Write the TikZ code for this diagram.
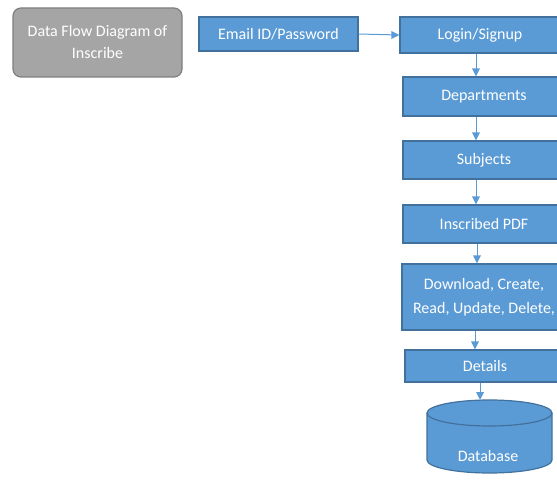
\documentclass[tikz,border=0pt]{standalone}
\usepackage{fontspec}
\setmainfont{Carlito}
\definecolor{boxblue}{HTML}{5B9BD5}
\definecolor{boxedge}{HTML}{41719C}
\definecolor{graybox}{HTML}{A5A5A5}
\definecolor{grayedge}{HTML}{7F7F7F}
\definecolor{arrowblue}{HTML}{5B9BD5}
\begin{document}
\begin{tikzpicture}[x=1pt,y=1pt,
  bluebox/.style={draw=boxedge, line width=1.2pt, fill=boxblue, text=white, font=\fontsize{16}{19}\selectfont, align=center, inner sep=0pt},
  flow/.style={draw=arrowblue, line width=1pt, shorten >=3pt},
  headtip/.style={fill=arrowblue}]
\clip (0,0) rectangle (557,-481);
\fill[white] (0,0) rectangle (557,-481);
\node[draw=grayedge, line width=1.2pt, fill=graybox, rounded corners=8pt, text=white, font=\fontsize{16}{22}\selectfont, align=center, minimum width=169pt, minimum height=69pt, inner sep=0pt] (title) at (97.5,-42.5) {Data Flow Diagram of\\Inscribe};
\node[bluebox, minimum width=159pt, minimum height=34pt] (email) at (278.5,-34) {Email ID/Password};
\node[bluebox, minimum width=160pt, minimum height=36pt] (login) at (480,-35) {Login/Signup};
\node[bluebox, minimum width=162pt, minimum height=39pt] (dept) at (484,-96.5) {Departments};
\node[bluebox, minimum width=162pt, minimum height=38pt] (subj) at (484,-160) {Subjects};
\node[bluebox, minimum width=162pt, minimum height=38pt] (pdf) at (484,-224) {Inscribed PDF};
\node[bluebox, minimum width=164pt, minimum height=66pt, font=\fontsize{16}{24}\selectfont] (crud) at (484,-297) {Download, Create,\\Read, Update, Delete,};
\node[bluebox, minimum width=160pt, minimum height=32pt] (details) at (485,-366) {Details};
% database cylinder
\coordinate (db) at (489.5,-436.5);
\coordinate (dbtop) at (480,-400);
\draw[draw=boxedge, line width=1.2pt, fill=boxblue] (427,-413) -- (427,-460) arc (180:360:62.5 and 13) -- (552,-413) arc (0:180:62.5 and 13) -- cycle;
\draw[draw=boxedge, line width=1.2pt] (427,-413) arc (180:360:62.5 and 13);
\node[text=white, font=\fontsize{16}{19}\selectfont] (dbtext) at (488,-456) {Database};
% connectors
\draw[flow] (email.east) -- (login.west);
\fill[headtip] (login.west) -- ++(-8,4) -- ++(0,-8) -- cycle;
\draw[flow] ([xshift=-4pt]login.south) -- ([xshift=-8pt]dept.north);
\fill[headtip] ([xshift=-8pt]dept.north) -- ++(-4,8) -- ++(8,0) -- cycle;
\draw[flow] ([xshift=-8pt]dept.south) -- ([xshift=-8pt]subj.north);
\fill[headtip] ([xshift=-8pt]subj.north) -- ++(-4,8) -- ++(8,0) -- cycle;
\draw[flow] ([xshift=-8pt]subj.south) -- ([xshift=-8pt]pdf.north);
\fill[headtip] ([xshift=-8pt]pdf.north) -- ++(-4,8) -- ++(8,0) -- cycle;
\draw[flow] ([xshift=-7pt]pdf.south) -- ([xshift=-7pt]crud.north);
\fill[headtip] ([xshift=-7pt]crud.north) -- ++(-4,8) -- ++(8,0) -- cycle;
\draw[flow] ([xshift=-9pt]crud.south) -- ([xshift=-10pt]details.north);
\fill[headtip] ([xshift=-10pt]details.north) -- ++(-4,8) -- ++(8,0) -- cycle;
\draw[flow] ([xshift=-5pt]details.south) -- (dbtop);
\fill[headtip] (dbtop) -- ++(-4,8) -- ++(8,0) -- cycle;
\end{tikzpicture}
\end{document}
